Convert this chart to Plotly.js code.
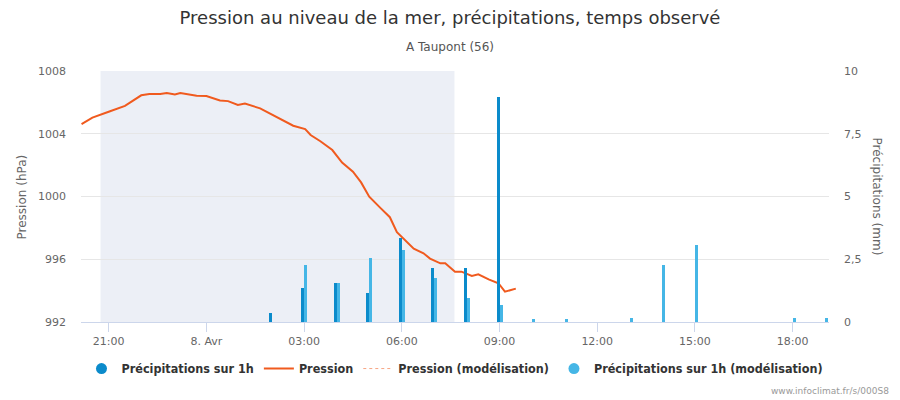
<!DOCTYPE html>
<html>
<head>
<meta charset="utf-8">
<script src="https://cdn.plot.ly/plotly-3.0.1.min.js"></script>
<style>
  html, body { margin: 0; padding: 0; background: #fff; }
  #chart { width: 900px; height: 400px; }
</style>
</head>
<body>
<div id="chart"></div>
<script>
// pression observée (hPa)
const pressureTimes = [
    '2024-04-07 20:10', '2024-04-07 20:30', '2024-04-07 21:00', '2024-04-07 21:30',
    '2024-04-07 22:00', '2024-04-07 22:15', '2024-04-07 22:35', '2024-04-07 22:47',
    '2024-04-07 23:02', '2024-04-07 23:12', '2024-04-07 23:42', '2024-04-08 00:00',
    '2024-04-08 00:25', '2024-04-08 00:40', '2024-04-08 00:58', '2024-04-08 01:11',
    '2024-04-08 01:39', '2024-04-08 01:58', '2024-04-08 02:16', '2024-04-08 02:40',
    '2024-04-08 03:02', '2024-04-08 03:12', '2024-04-08 03:30', '2024-04-08 03:52',
    '2024-04-08 04:10', '2024-04-08 04:30', '2024-04-08 04:45', '2024-04-08 05:00',
    '2024-04-08 05:20', '2024-04-08 05:38', '2024-04-08 05:51', '2024-04-08 06:06',
    '2024-04-08 06:22', '2024-04-08 06:40', '2024-04-08 06:52', '2024-04-08 07:11',
    '2024-04-08 07:20', '2024-04-08 07:38', '2024-04-08 07:50', '2024-04-08 08:09',
    '2024-04-08 08:21', '2024-04-08 08:40', '2024-04-08 08:58', '2024-04-08 09:10',
    '2024-04-08 09:30'
];
const pressureValues = [
    1004.62, 1005.03, 1005.40, 1005.78,
    1006.45, 1006.53, 1006.53, 1006.60,
    1006.50, 1006.60, 1006.42, 1006.41,
    1006.12, 1006.08, 1005.83, 1005.92,
    1005.62, 1005.26, 1004.92, 1004.51,
    1004.30, 1003.92, 1003.52, 1002.96,
    1002.16, 1001.58, 1000.90, 999.99,
    999.29, 998.68, 997.73, 997.23,
    996.67, 996.38, 996.04, 995.74,
    995.74, 995.21, 995.21, 994.93,
    995.04, 994.72, 994.47, 993.93,
    994.13
];

// précipitations sur 1h (mm)
const rainObsTimes = [
    '2024-04-08 02:00', '2024-04-08 03:00', '2024-04-08 04:00', '2024-04-08 05:00',
    '2024-04-08 06:00', '2024-04-08 07:00', '2024-04-08 08:00', '2024-04-08 09:00'
];
const rainObsValues = [0.36, 1.35, 1.55, 1.16, 3.35, 2.15, 2.15, 8.96];

const rainModelTimes = [
    '2024-04-08 03:00', '2024-04-08 04:00', '2024-04-08 05:00', '2024-04-08 06:00',
    '2024-04-08 07:00', '2024-04-08 08:00', '2024-04-08 09:00', '2024-04-08 10:00',
    '2024-04-08 11:00', '2024-04-08 13:00', '2024-04-08 14:00', '2024-04-08 15:00',
    '2024-04-08 18:00', '2024-04-08 19:00'
];
const rainModelValues = [2.27, 1.55, 2.55, 2.87, 1.75, 0.96, 0.68, 0.1, 0.1, 0.16, 2.27, 3.07, 0.16, 0.16];

// axe des temps
const tickTimes = [
    '2024-04-07 21:00', '2024-04-08 00:00', '2024-04-08 03:00', '2024-04-08 06:00',
    '2024-04-08 09:00', '2024-04-08 12:00', '2024-04-08 15:00', '2024-04-08 18:00'
];
const tickLabels = ['21:00', '8. Avr', '03:00', '06:00', '09:00', '12:00', '15:00', '18:00'];

const nightStart = '2024-04-07 20:45';
const nightEnd = '2024-04-08 07:37';

const COLOR_OBS = '#0b8bcb';
const COLOR_MODEL = '#45b6e6';
const COLOR_PRESS = '#f05a1e';
const FONT = 'DejaVu Sans, sans-serif';
const FONT_LEGEND = 'DejaVu Sans Condensed, DejaVu Sans, sans-serif';
const BAR_W = 330000; // ms

const traces = [
    {
        x: rainObsTimes, y: rainObsValues, type: 'bar', yaxis: 'y2',
        width: rainObsTimes.map(() => BAR_W), offset: -BAR_W,
        marker: { color: COLOR_OBS, line: { width: 0 } },
        showlegend: false, name: 'Précipitations sur 1h'
    },
    {
        x: rainModelTimes, y: rainModelValues, type: 'bar', yaxis: 'y2',
        width: rainModelTimes.map(() => BAR_W), offset: 0,
        marker: { color: COLOR_MODEL, line: { width: 0 } },
        showlegend: false, name: 'Précipitations sur 1h (modélisation)'
    },
    {
        x: pressureTimes, y: pressureValues, type: 'scatter', mode: 'lines',
        line: { color: COLOR_PRESS, width: 2 }, showlegend: false, name: 'Pression'
    },
    // entrées de légende
    {
        x: [null], y: [null], type: 'scatter', mode: 'markers', name: 'Précipitations sur 1h',
        marker: { color: COLOR_OBS, size: 11, symbol: 'circle' }
    },
    {
        x: [null], y: [null], type: 'scatter', mode: 'lines', name: 'Pression',
        line: { color: COLOR_PRESS, width: 2 }
    },
    {
        x: [null], y: [null], type: 'scatter', mode: 'lines', name: 'Pression (modélisation)',
        line: { color: '#f7a583', width: 1, dash: 'dot' }
    },
    {
        x: [null], y: [null], type: 'scatter', mode: 'markers', name: 'Précipitations sur 1h (modélisation)',
        marker: { color: COLOR_MODEL, size: 11, symbol: 'circle' }
    }
];

const layout = {
    width: 900,
    height: 400,
    margin: { l: 81, r: 71, t: 71, b: 78 },
    paper_bgcolor: '#ffffff',
    plot_bgcolor: '#ffffff',
    font: { family: FONT, color: '#666666', size: 11 },
    separators: ', ',
    barmode: 'overlay',
    bargap: 0,
    title: {
        text: 'Pression au niveau de la mer, précipitations, temps observé',
        font: { family: FONT, size: 18, color: '#333333' },
        x: 0.5, xanchor: 'center',
        y: 0.955, yanchor: 'middle', yref: 'container'
    },
    xaxis: {
        type: 'date',
        range: ['2024-04-07 20:09', '2024-04-08 19:07'],
        tickvals: tickTimes,
        ticktext: tickLabels,
        tickfont: { size: 11, color: '#666666' },
        showgrid: false,
        zeroline: false,
        showline: true,
        linecolor: '#ccd6eb',
        linewidth: 1,
        ticks: 'outside',
        ticklen: 9,
        tickcolor: '#ccd6eb',
        fixedrange: true
    },
    yaxis: {
        range: [992, 1008],
        tickvals: [992, 996, 1000, 1004, 1008],
        showgrid: true,
        gridcolor: '#e6e6e6',
        gridwidth: 1,
        zeroline: false,
        ticks: '',
        ticklabelstandoff: 14,
        tickfont: { size: 11, color: '#666666' }
    },
    yaxis2: {
        overlaying: 'y',
        side: 'right',
        range: [0, 10],
        tickvals: [0, 2.5, 5, 7.5, 10],
        showgrid: false,
        zeroline: false,
        ticks: '',
        ticklabelstandoff: 14,
        tickfont: { size: 11, color: '#666666' }
    },
    shapes: [
        {
            type: 'rect', xref: 'x', yref: 'paper',
            x0: nightStart, x1: nightEnd, y0: 0, y1: 1,
            fillcolor: '#eceff6', line: { width: 0 }, layer: 'below'
        }
    ],
    annotations: [
        {
            text: 'A Taupont (56)', xref: 'paper', yref: 'paper', x: 0.4927, y: 1.0956,
            xanchor: 'center', yanchor: 'middle', showarrow: false,
            font: { family: FONT, size: 12, color: '#555555' }
        },
        {
            text: 'Pression (hPa)', xref: 'paper', yref: 'paper', x: -0.0789, y: 0.5,
            xanchor: 'center', yanchor: 'middle', textangle: -90, showarrow: false,
            font: { family: FONT, size: 12, color: '#666666' }
        },
        {
            text: 'Précipitations (mm)', xref: 'paper', yref: 'paper', x: 1.0655, y: 0.5,
            xanchor: 'center', yanchor: 'middle', textangle: 90, showarrow: false,
            font: { family: FONT, size: 12, color: '#666666' }
        },
        {
            text: 'www.infoclimat.fr/s/000S8', xref: 'paper', yref: 'paper', x: 1.083, y: -0.275,
            xanchor: 'right', yanchor: 'middle', showarrow: false,
            font: { family: FONT, size: 9, color: '#999999' }
        }
    ],
    showlegend: true,
    legend: {
        orientation: 'h',
        x: 0.5, xanchor: 'center',
        y: -0.187, yanchor: 'middle',
        font: { family: FONT_LEGEND, size: 12.5, color: '#333333', weight: 'bold' },
        itemwidth: 30,
        tracegroupgap: 0
    }
};

Plotly.newPlot('chart', traces, layout, { displayModeBar: false, staticPlot: true });
</script>
</body>
</html>
